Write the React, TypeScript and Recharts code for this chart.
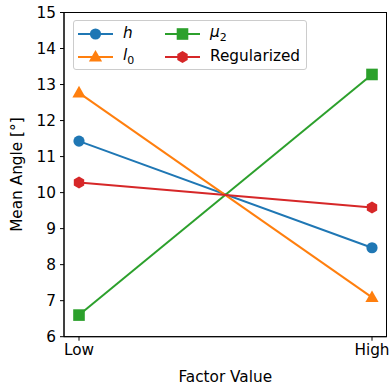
import React from "react"
import { LineChart, Line, XAxis, YAxis, Legend, Label } from "recharts"

const categories = ["Low", "High"]
const hValues = [11.43, 8.47]
const l0Values = [12.77, 7.09]
const mu2Values = [6.6, 13.28]
const regValues = [10.28, 9.59]
const yTicks = [6, 7, 8, 9, 10, 11, 12, 13, 14, 15]

const data = categories.map((c, i) => ({
  factor: c,
  h: hValues[i],
  l0: l0Values[i],
  mu2: mu2Values[i],
  reg: regValues[i],
}))

const FONT = "'DejaVu Sans', sans-serif"
const FS = 15.3

function marker(kind: string, cx: number, cy: number, color: string) {
  if (kind === "circle") return <circle cx={cx} cy={cy} r={5.6} fill={color} />
  if (kind === "square") return <rect x={cx - 5.8} y={cy - 5.8} width={11.6} height={11.6} fill={color} />
  if (kind === "triangle") {
    const p = `${cx},${cy - 7} ${cx - 6.6},${cy + 4.6} ${cx + 6.6},${cy + 4.6}`
    return <polygon points={p} fill={color} />
  }
  // hexagon, pointy top
  const pts = []
  for (let k = 0; k < 6; k++) {
    const a = Math.PI / 2 + (k * Math.PI) / 3
    pts.push(`${cx + 6 * Math.cos(a)},${cy - 6 * Math.sin(a)}`)
  }
  return <polygon points={pts.join(" ")} fill={color} />
}

const series = [
  { key: "h", color: "#1f77b4", shape: "circle" },
  { key: "l0", color: "#ff7f0e", shape: "triangle" },
  { key: "mu2", color: "#2ca02c", shape: "square" },
  { key: "reg", color: "#d62728", shape: "hexagon" },
]

function LegendItem({ color, shape, children }: any) {
  return (
    <div style={{ display: "flex", alignItems: "center", height: 22.7 }}>
      <svg width={35} height={16} style={{ marginRight: 10 }}>
        <line x1={0} y1={8} x2={35} y2={8} stroke={color} strokeWidth={2} />
        {marker(shape, 17.5, 8, color)}
      </svg>
      <span>{children}</span>
    </div>
  )
}

function LegendBox() {
  return (
    <div
      style={{
        position: "absolute",
        left: 73,
        top: 20,
        width: 234,
        height: 50,
        border: "1px solid #cccccc",
        borderRadius: 3,
        background: "rgba(255,255,255,0.8)",
        fontFamily: FONT,
        fontSize: FS,
        color: "#000",
        display: "grid",
        gridTemplateColumns: "87px 140px",
        padding: "1.5px 0 0 4px",
        boxSizing: "border-box",
        lineHeight: 1,
      }}
    >
      <LegendItem color="#1f77b4" shape="circle"><i>h</i></LegendItem>
      <LegendItem color="#2ca02c" shape="square"><i>μ</i><sub style={{ fontSize: 11 }}>2</sub></LegendItem>
      <LegendItem color="#ff7f0e" shape="triangle"><i>l</i><sub style={{ fontSize: 11 }}>0</sub></LegendItem>
      <LegendItem color="#d62728" shape="hexagon">Regularized</LegendItem>
    </div>
  )
}

export default function App() {
  return (
    <div style={{ position: "absolute", left: 0, top: 0, width: 390, height: 387, background: "#fff" }}>
      <LineChart
        width={390}
        height={387}
        data={data}
        margin={{ top: 12.5, right: 3.5, bottom: 0, left: 0 }}
        style={{ fontFamily: FONT }}
      >
        <XAxis
          dataKey="factor"
          padding={{ left: 15, right: 14.5 }}
          height={50.3}
          tick={{ fill: "#000", fontSize: FS }}
          tickLine={{ stroke: "#000" }}
          tickSize={4}
          tickMargin={3}
          axisLine={{ stroke: "#000", strokeWidth: 1 }}
        >
          <Label value="Factor Value" position="insideBottom" offset={5} style={{ fill: "#000", fontSize: FS }} />
        </XAxis>
        <YAxis
          domain={[6, 15]}
          ticks={yTicks}
          width={64}
          tick={{ fill: "#000", fontSize: FS }}
          tickLine={{ stroke: "#000" }}
          tickSize={4}
          tickMargin={4}
          axisLine={{ stroke: "#000", strokeWidth: 1 }}
          interval={0}
        >
          <Label value="Mean Angle [°]" angle={-90} position="insideLeft" offset={17} style={{ fill: "#000", fontSize: FS, textAnchor: "middle" }} />
        </YAxis>
        {series.map((s) => (
          <Line
            key={s.key}
            dataKey={s.key}
            stroke={s.color}
            strokeWidth={2}
            isAnimationActive={false}
            dot={(p: any) => <g key={`${s.key}-${p.index}`}>{marker(s.shape, p.cx, p.cy, s.color)}</g>}
            activeDot={false}
          />
        ))}
        <Legend content={() => <LegendBox />} wrapperStyle={{ position: "absolute", left: 0, top: 0, width: 0, height: 0 }} />
      </LineChart>
      <svg style={{ position: "absolute", left: 0, top: 0, pointerEvents: "none" }} width={390} height={387}>
        <rect x={64} y={12.5} width={322.5} height={324.2} fill="none" stroke="#000" strokeWidth={1} />
      </svg>
    </div>
  )
}
